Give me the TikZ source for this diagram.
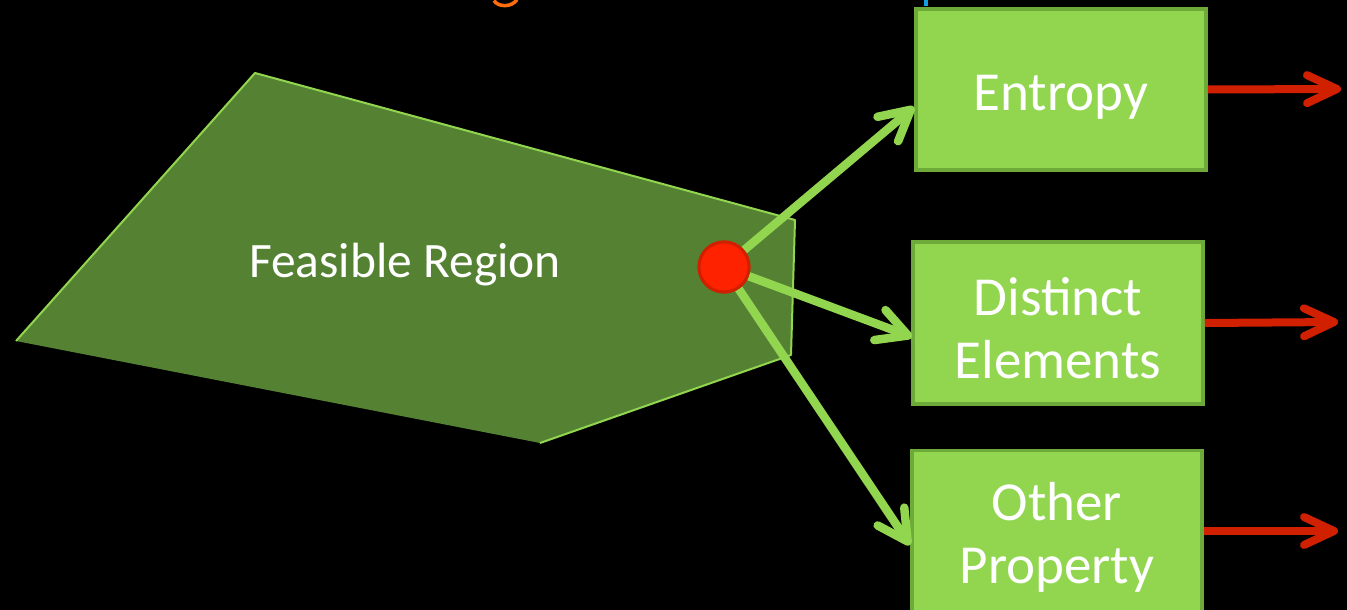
\documentclass[tikz,border=0pt]{standalone}
\usepackage{fontspec}
\setmainfont{Carlito}
\usetikzlibrary{arrows.meta}
\definecolor{regionfill}{RGB}{85,130,50}
\definecolor{lightgreen}{RGB}{146,214,80}
\definecolor{boxborder}{RGB}{110,170,58}
\definecolor{darkred}{RGB}{208,32,0}
\definecolor{dotred}{RGB}{255,34,0}
\definecolor{titleorange}{RGB}{255,110,10}
\definecolor{titleblue}{RGB}{20,160,225}
\tikzset{
  propbox/.style={draw=boxborder, line width=3.5pt, fill=lightgreen, minimum width=290pt, minimum height=161pt, inner sep=0pt},
  boxtext/.style={align=center, text=white, inner sep=0pt, font=\fontsize{55}{63}\selectfont},
  greenarrow/.style={draw=lightgreen, line width=8.5pt, -{Straight Barb[length=30pt,width=32pt,round]}},
  redarrow/.style={draw=darkred, line width=8pt, -{Straight Barb[length=30pt,width=28pt,round]}},
  regionlabel/.style={text=white, font=\fontsize{49.5}{56}\selectfont, inner sep=0pt},
  dotstyle/.style={circle, draw=darkred, line width=3pt, fill=dotred, minimum size=50pt, inner sep=0pt}
}
\begin{document}
\begin{tikzpicture}[x=1pt,y=-1pt]
\useasboundingbox (0,0) rectangle (1347,610);
\fill[black] (0,0) rectangle (1347,610);
% title fragments cut off at the top
\draw[titleorange, line width=3.5pt] (494,0.5) .. controls (498,7.5) and (512,7.5) .. (517,-0.5);
\draw[titleblue, line width=4pt] (926,-1) -- (926,6);
% feasible region
\fill[regionfill] (16,341) -- (255,73) -- (795,220) -- (791,355) -- (540,443) -- cycle;
\draw[lightgreen, line width=2pt, line join=round] (540,443) -- (791,355) -- (795,220) -- (255,73) -- (16,341);
\node[regionlabel] (region) at (405,265) {Feasible Region};
% property boxes
\node[propbox, label={[boxtext, yshift=-8pt]center:Entropy}] (ent) at (1061,89.5) {};
\node[propbox, minimum height=162pt, label={[boxtext, yshift=-5pt]center:Distinct\\Elements}] (dist) at (1058,323) {};
\node[propbox, label={[boxtext, yshift=-6pt]center:Other\\Property}] (other) at (1057,531) {};
% arrow end points
\coordinate (e1) at (914,107);
\coordinate (e2) at (912,337);
\coordinate (e3) at (910,545);
\coordinate (r1) at (1341,89);
\coordinate (r2) at (1338,322);
\coordinate (r3) at (1338,531);
% the point
\node[dotstyle] (dot) at (724,267) {};
\draw[greenarrow] (dot) -- (e1);
\draw[greenarrow] (dot) -- (e2);
\draw[greenarrow] (dot) -- (e3);
\node[dotstyle] at (dot) {};
% red arrows
\draw[redarrow] (ent.east) -- (r1);
\draw[redarrow] (dist.east) -- (r2);
\draw[redarrow] (other.east) -- (r3);
\end{tikzpicture}
\end{document}
